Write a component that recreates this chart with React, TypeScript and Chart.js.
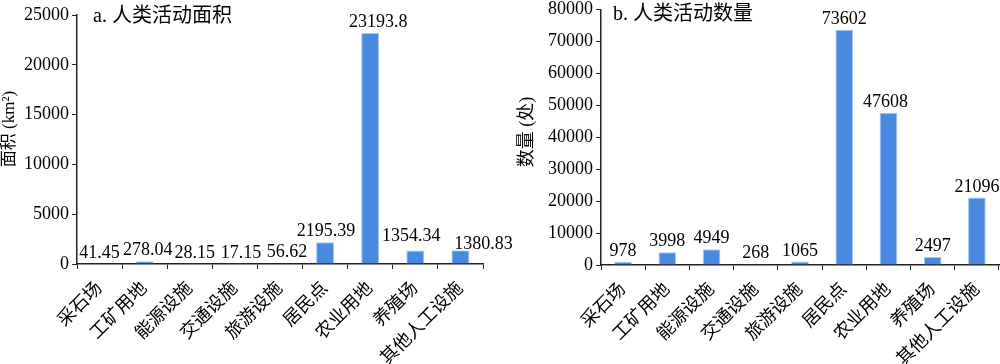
import React, { useEffect, useRef } from "react";
import { Chart, registerables } from "chart.js";

Chart.register(...registerables);

const categories = ["采石场", "工矿用地", "能源设施", "交通设施", "旅游设施", "居民点", "农业用地", "养殖场", "其他人工设施"];
const areaValues = [41.45, 278.04, 28.15, 17.15, 56.62, 2195.39, 23193.8, 1354.34, 1380.83];
const countValues = [978, 3998, 4949, 268, 1065, 73602, 47608, 2497, 21096];
const areaTicks = { max: 25000, step: 5000 };
const countTicks = { max: 80000, step: 10000 };

const FONT = '"Liberation Serif", "Noto Sans CJK SC", serif';
const BAR = "#4a89e0";
const BAR_EDGE = "#a9c9f2";
const AXIS = "#222";

type PanelCfg = {
  values: number[];
  max: number;
  step: number;
  title: string;
  yTitle: string;
  yTitleX: number;
  yTitleY: number;
  yTitleSize: number;
  titleX: number;
  titleY: number;
  yWidth: number;
  xHeight: number;
  padTop: number;
  padRight: number;
  labelDx: number[];
  labelDy: number[];
};

function makeChart(canvas: HTMLCanvasElement, cfg: PanelCfg) {
  const labelPlugin = {
    id: "labels" + cfg.title,
    afterDatasetsDraw(chart: any) {
      const ctx = chart.ctx;
      const meta = chart.getDatasetMeta(0);
      ctx.save();
      ctx.fillStyle = "#000";
      ctx.font = `18px ${FONT}`;
      ctx.textAlign = "center";
      ctx.textBaseline = "alphabetic";
      meta.data.forEach((el: any, i: number) => {
        ctx.fillText(String(cfg.values[i]), el.x + (cfg.labelDx[i] || 0), el.y - 6 + (cfg.labelDy[i] || 0));
      });
      ctx.font = `20px ${FONT}`;
      ctx.textAlign = "left";
      ctx.textBaseline = "middle";
      ctx.fillText(cfg.title, cfg.titleX, cfg.titleY);
      ctx.translate(cfg.yTitleX, cfg.yTitleY);
      ctx.rotate(-Math.PI / 2);
      ctx.textAlign = "center";
      ctx.font = `${cfg.yTitleSize}px ${FONT}`;
      ctx.fillText(cfg.yTitle, 0, 0);
      ctx.restore();
    },
  };

  return new Chart(canvas, {
    type: "bar",
    data: {
      labels: categories,
      datasets: [
        {
          data: cfg.values,
          backgroundColor: BAR,
          borderColor: BAR_EDGE,
          borderWidth: 1,
          barPercentage: 0.4,
          categoryPercentage: 1,
        },
      ],
    },
    options: {
      responsive: false,
      animation: false,
      layout: { padding: { top: cfg.padTop, right: cfg.padRight, left: 0, bottom: 0 } },
      plugins: {
        legend: { display: false },
        tooltip: { enabled: false },
        title: { display: false },
      },
      scales: {
        x: {
          grid: { display: true, drawOnChartArea: false, drawTicks: true, tickLength: 5, color: AXIS, lineWidth: 1 },
          border: { display: true, color: AXIS, width: 1.5 },
          ticks: {
            color: "#000",
            font: { family: FONT, size: 18 },
            maxRotation: 45,
            minRotation: 45,
            padding: 9,
            autoSkip: false,
          },
          afterFit: (scale: any) => {
            scale.height = cfg.xHeight;
          },
        },
        y: {
          min: 0,
          max: cfg.max,
          grid: { display: true, drawOnChartArea: false, drawTicks: true, tickLength: 5, color: AXIS, lineWidth: 1 },
          border: { display: true, color: AXIS, width: 1.5 },
          ticks: {
            stepSize: cfg.step,
            color: "#000",
            font: { family: FONT, size: 18, lineHeight: 0.7 },
            padding: 3,
            callback: (v: any) => String(v),
          },
          afterFit: (scale: any) => {
            scale.width = cfg.yWidth;
          },
        },
      },
    },
    plugins: [labelPlugin],
  } as any);
}

export default function App() {
  const leftRef = useRef<HTMLCanvasElement>(null);
  const rightRef = useRef<HTMLCanvasElement>(null);

  useEffect(() => {
    const a = makeChart(leftRef.current!, {
      values: areaValues,
      max: areaTicks.max,
      step: areaTicks.step,
      title: "a. 人类活动面积",
      yTitle: "面积 (km²)",
      yTitleX: 10,
      yTitleY: 129,
      yTitleSize: 17,
      titleX: 93,
      titleY: 17,
      yWidth: 77,
      xHeight: 100,
      padTop: 15,
      padRight: 37,
      labelDx: [0, 3, 5, 6, 7, 1, 8, -4, 23],
      labelDy: [0, 0, 0, 0, 0, 0, 0, -4, 5],
    });
    const b = makeChart(rightRef.current!, {
      values: countValues,
      max: countTicks.max,
      step: countTicks.step,
      title: "b. 人类活动数量",
      yTitle: "数量 (处)",
      yTitleX: 27,
      yTitleY: 132,
      yTitleSize: 18,
      titleX: 113,
      titleY: 15,
      yWidth: 101,
      xHeight: 99,
      padTop: 7,
      padRight: 11,
      labelDx: [0, 0, 0, 0, 0, 0, -3, 0, 0],
      labelDy: [0, 0, 0, 0, 0, 0, 0, 0, 0],
    });
    return () => {
      a.destroy();
      b.destroy();
    };
  }, []);

  return (
    <div style={{ position: "fixed", left: 0, top: 0, width: 1000, height: 364, overflow: "hidden", background: "#fff" }}>
      <canvas ref={leftRef} width={520} height={364} style={{ position: "absolute", left: 0, top: 0 }} />
      <canvas ref={rightRef} width={510} height={364} style={{ position: "absolute", left: 500, top: 0 }} />
    </div>
  );
}
